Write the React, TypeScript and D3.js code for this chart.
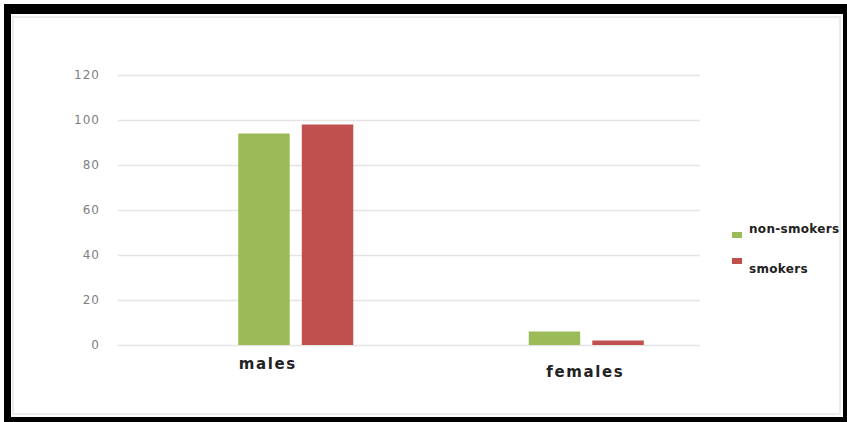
import { useEffect, useRef } from "react";
import * as d3 from "d3";

const categories = ["males", "females"];
const seriesNames = ["non-smokers", "smokers"];
const nonSmokers = [94, 6];
const smokers = [98, 2];
const yTicks = [0, 20, 40, 60, 80, 100, 120];

const colors = ["#9BBB59", "#C0504D"];

export default function App() {
  const svgRef = useRef<SVGSVGElement | null>(null);

  useEffect(() => {
    if (!svgRef.current) return;
    const W = 847;
    const H = 422;

    const svg = d3.select(svgRef.current).attr("width", W).attr("height", H);
    svg.selectAll("*").remove();

    // frame
    svg.append("rect").attr("width", W).attr("height", H).attr("fill", "#fff");
    svg.append("rect").attr("x", 4).attr("y", 4).attr("width", W - 4).attr("height", H - 4).attr("fill", "#000");
    svg.append("rect").attr("x", 11).attr("y", 14).attr("width", 832).attr("height", 403).attr("fill", "#fff");
    svg
      .append("rect")
      .attr("x", 13)
      .attr("y", 17)
      .attr("width", 827)
      .attr("height", 397)
      .attr("fill", "none")
      .attr("stroke", "#ececec")
      .attr("stroke-width", 2);

    const y = d3.scaleLinear().domain([0, 120]).range([345, 75]);

    const x = d3
      .scaleBand<string>()
      .domain(categories)
      .range([150.5, 731.5])
      .paddingInner(0.604)
      .paddingOuter(0.302);

    const xInner = d3
      .scaleBand<string>()
      .domain(seriesNames)
      .range([0, x.bandwidth()])
      .paddingInner(0.19);

    // gridlines
    svg
      .append("g")
      .selectAll("line")
      .data(yTicks)
      .join("line")
      .attr("x1", 118)
      .attr("x2", 700)
      .attr("y1", (d) => Math.round(y(d)) + 0.5)
      .attr("y2", (d) => Math.round(y(d)) + 0.5)
      .attr("stroke", "#e4e4e4")
      .attr("stroke-width", 1.5);

    // y labels
    svg
      .append("g")
      .selectAll("text")
      .data(yTicks)
      .join("text")
      .attr("x", 100)
      .attr("y", (d) => y(d))
      .attr("dy", "0.35em")
      .attr("text-anchor", "end")
      .style("font-family", "DejaVu Sans, sans-serif")
      .style("font-size", "12px")
      .style("letter-spacing", "1px")
      .style("fill", "#808080")
      .text((d) => d);

    // bars
    const rows = categories.map((c, i) => ({
      category: c,
      values: [nonSmokers[i], smokers[i]],
    }));

    const groups = svg
      .append("g")
      .selectAll("g")
      .data(rows)
      .join("g")
      .attr("transform", (d) => `translate(${x(d.category)},0)`);

    groups
      .selectAll("rect")
      .data((d) => d.values.map((v, j) => ({ name: seriesNames[j], value: v, j })))
      .join("rect")
      .attr("x", (d) => xInner(d.name) || 0)
      .attr("y", (d) => y(d.value))
      .attr("width", xInner.bandwidth())
      .attr("height", (d) => y(0) - y(d.value))
      .attr("fill", (d) => colors[d.j]);

    // category labels (offset as in the original)
    const labelOffset: Record<string, [number, number]> = {
      males: [-28, 19],
      females: [-1, 27],
    };
    svg
      .append("g")
      .selectAll("text")
      .data(categories)
      .join("text")
      .attr("x", (d) => (x(d) || 0) + x.bandwidth() / 2 + labelOffset[d][0])
      .attr("y", (d) => y(0) + labelOffset[d][1])
      .attr("dy", "0.35em")
      .attr("text-anchor", "middle")
      .style("font-family", "DejaVu Sans, sans-serif")
      .style("font-size", "15px")
      .style("font-weight", "bold")
      .style("letter-spacing", "1.6px")
      .style("fill", "#222")
      .text((d) => d);

    // legend
    const legend = svg
      .append("g")
      .selectAll("g")
      .data(seriesNames)
      .join("g")
      .attr("transform", (_, i) => `translate(732,${i === 0 ? 232 : 258})`);

    legend
      .append("rect")
      .attr("width", 10)
      .attr("height", 6)
      .attr("fill", (_, i) => colors[i]);

    legend
      .append("text")
      .attr("x", 17)
      .attr("y", (_, i) => (i === 0 ? -3 : 11))
      .attr("dy", "0.35em")
      .style("font-family", "DejaVu Sans, sans-serif")
      .style("font-size", "12px")
      .style("font-weight", "bold")
      .style("letter-spacing", "0.3px")
      .style("fill", "#222")
      .text((d) => d);
  }, []);

  return (
    <svg
      ref={svgRef}
      style={{ position: "absolute", left: 0, top: 0, display: "block" }}
    />
  );
}
